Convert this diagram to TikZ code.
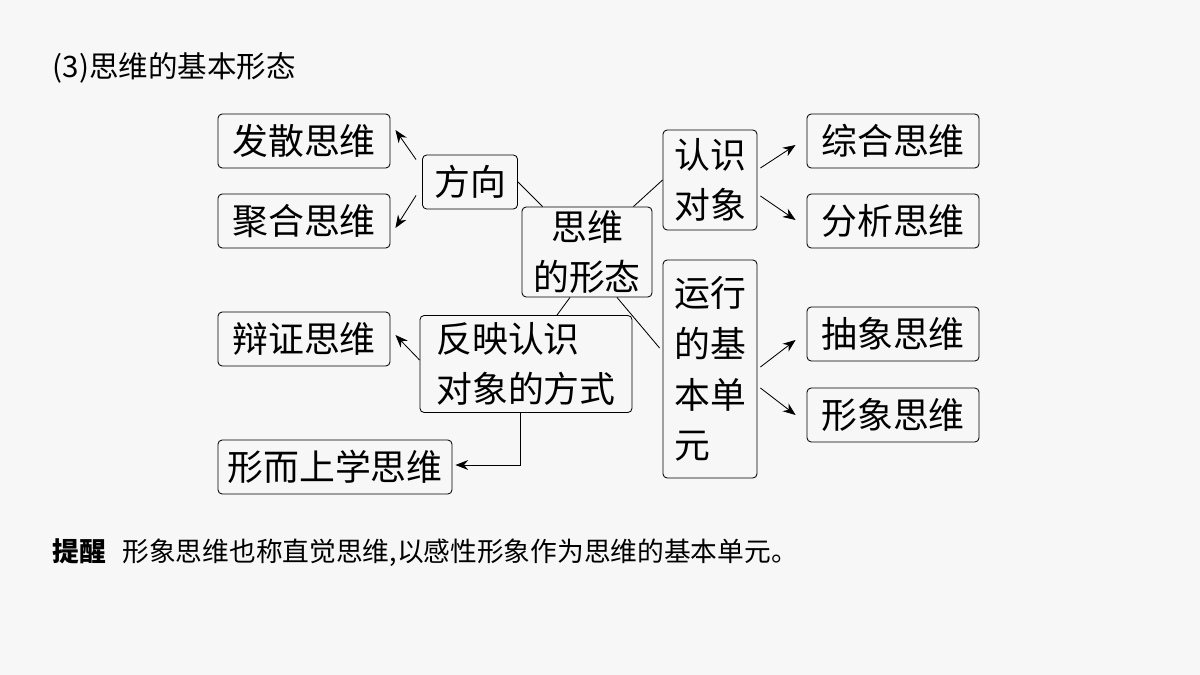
\documentclass[tikz,border=0pt]{standalone}
\usepackage{fontspec}
\setmainfont{Noto Sans CJK SC}
\usetikzlibrary{arrows,arrows.meta,positioning}

\begin{document}
\begin{tikzpicture}
	% Styles
	[
	x=0.025cm,y=-0.025cm,
	box/.style={draw,semithick,rounded corners=3pt,inner sep=0pt,align=center,font=\fontsize{25.5}{36}\selectfont},
	wide/.style={box,minimum width=4.3cm,minimum height=1.35cm},
	link/.style={semithick},
	arr/.style={semithick,-{Stealth[length=9pt,width=7pt]}},
	]

	% Canvas
	\fill[gray!6] (0,0) rectangle (1200,675);
	\useasboundingbox (0,0) rectangle (1200,675);

	% Title
	\node at (48,68) (title) [anchor=west,font=\fontsize{21}{25}\selectfont] {(3)思维的基本形态};

	% Nodes
	\node at (304,141)	(fs)	[wide]	{发散思维};
	\node at (304,221)	(jh)	[wide]	{聚合思维};
	\node at (470,182)	(fx)	[box,minimum width=2.375cm,minimum height=1.35cm]	{方向};
	\node at (587,252)	(sw)	[box,minimum width=3.25cm,minimum height=2.25cm]	{思维\\的形态};
	\node at (710,180)	(rs)	[box,minimum width=2.35cm,minimum height=2.5cm]	{认识\\对象};
	\node at (893,141)	(zh)	[wide]	{综合思维};
	\node at (893,221)	(fz)	[wide]	{分析思维};
	\node at (710,369)	(yx)	[box,align=left,minimum width=2.35cm,minimum height=5.45cm]	{运行\\的基\\本单\\元};
	\node at (893,334)	(cx)	[wide]	{抽象思维};
	\node at (893,415)	(xx)	[wide]	{形象思维};
	\node at (304,339)	(bz)	[wide]	{辩证思维};
	\node at (526,364)	(fy)	[box,align=left,minimum width=5.3cm,minimum height=2.425cm]	{反映认识\\对象的方式};
	\node at (335,467)	(xs)	[box,minimum width=5.85cm,minimum height=1.35cm]	{形而上学思维};

	% Lines
	\draw[link] (fx.east) -- ([shift={(21,0)}]sw.north west);
	\draw[link] (rs.west) -- ([shift={(-19,0)}]sw.north east);
	\draw[link] ([shift={(-17,0)}]sw.south) -- ([shift={(31,0)}]fy.north);
	\draw[link] ([shift={(30,0)}]sw.south) -- ([shift={(-3,-21)}]yx.west);

	% Arrows
	\draw[arr] ([shift={(-6,5)}]fx.north west) -- ([shift={(5,-11)}]fs.east);
	\draw[arr] ([shift={(-6,-14)}]fx.south west) -- ([shift={(5,7)}]jh.east);
	\draw[arr] ([shift={(3,-12)}]rs.east) -- ([shift={(-11,4)}]zh.west);
	\draw[arr] ([shift={(3,16)}]rs.east) -- ([shift={(-11,-1)}]fz.west);
	\draw[arr] ([shift={(3,-2)}]yx.east) -- ([shift={(-11,6)}]cx.west);
	\draw[arr] ([shift={(3,19)}]yx.east) -- ([shift={(-11,0)}]xx.west);
	\draw[arr] ([shift={(0,-4)}]fy.west) -- ([shift={(5,-4)}]bz.east);
	\draw[arr] ([shift={(-6,0)}]fy.south) |- ([shift={(3,-2)}]xs.east);

	% Text
	\node at (48,553) (tx) [anchor=west,font=\fontsize{19}{23}\selectfont] {\textbf{提醒}\hspace{0.6em}形象思维也称直觉思维,以感性形象作为思维的基本单元。};
\end{tikzpicture}
\end{document}
